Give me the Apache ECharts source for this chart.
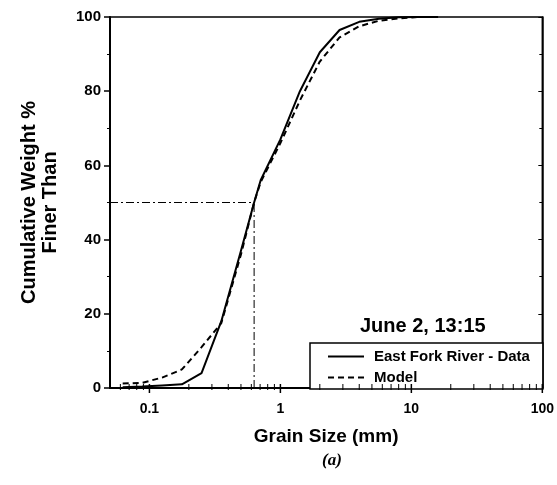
<!DOCTYPE html>
<html><head><meta charset="utf-8">
<script src="https://cdn.jsdelivr.net/npm/echarts@6/dist/echarts.min.js"></script>
<style>html,body{margin:0;padding:0;background:#fff}#c{width:557px;height:485px}</style>
</head><body><div id="c"></div>
<script>
// Grain size (mm)
const dataSizes = [0.0625, 0.088, 0.125, 0.177, 0.25, 0.354, 0.5, 0.63, 0.707, 1.0, 1.41, 2.0, 2.83, 4.0, 5.66, 8.0, 11.3, 16];
const dataPct   = [0.2, 0.4, 0.7, 1.0, 4.0, 18, 37, 50, 56, 67, 80, 90.5, 96.5, 98.7, 99.5, 99.9, 100, 100];
const modelSizes = [0.0625, 0.088, 0.125, 0.177, 0.25, 0.354, 0.5, 0.63, 0.707, 1.0, 1.41, 2.0, 2.83, 4.0, 5.66, 8.0, 11.3, 16];
const modelPct   = [1.2, 1.4, 2.8, 5.0, 11, 17.5, 36, 50, 55.5, 66, 77.5, 88, 94.5, 97.5, 99, 99.6, 100, 100];
const d50 = 0.63;
const d50Pct = 50;
const xMajorTicks = [0.1, 1, 10, 100];
const xMinorTicks = [0.06, 0.07, 0.08, 0.09, 0.2, 0.3, 0.4, 0.5, 0.6, 0.7, 0.8, 0.9, 2, 3, 4, 5, 6, 7, 8, 9, 20, 30, 40, 50, 60, 70, 80, 90];
const xMin = 0.05, xMax = 100;

const font = 'Liberation Sans, Arial, sans-serif';
const chart = echarts.init(document.getElementById('c'));

function tickSeries(vals, up, down, w) {
  return {
    type: 'custom', silent: true, clip: false, z: 5,
    data: vals.map(v => [v, 0]),
    encode: {x: 0, y: 1},
    renderItem: function (params, api) {
      const p = api.coord([api.value(0), 0]);
      return {type: 'line', shape: {x1: p[0], y1: p[1] + down, x2: p[0], y2: p[1] - up},
              style: {stroke: '#000', lineWidth: w}};
    }
  };
}

chart.setOption({
  animation: false,
  backgroundColor: '#fff',
  grid: {left: 110, right: 14, top: 17, bottom: 97, show: true, borderColor: '#000', borderWidth: 1.5, backgroundColor: 'transparent'},
  title: [
    {text: 'June 2, 13:15', left: 355, top: 311, textStyle: {fontFamily: font, fontWeight: 'bold', fontSize: 20, color: '#000'}},
    {text: '(a)', left: 327, top: 447, textAlign: 'center', textStyle: {fontFamily: 'Liberation Serif, DejaVu Serif, serif', fontStyle: 'italic', fontWeight: 'bold', fontSize: 17, color: '#000'}}
  ],
  legend: {
    data: ['East Fork River - Data', 'Model'],
    orient: 'vertical', left: 310, top: 343,
    padding: [6, 13, 4, 17], itemGap: 6,
    itemWidth: 36, itemHeight: 14,
    borderColor: '#000', borderWidth: 1.5, backgroundColor: '#fff', borderRadius: 0,
    itemStyle: {opacity: 0},
    textStyle: {fontFamily: font, fontWeight: 'bold', fontSize: 15, color: '#000', padding: [0, 0, 0, 5]}
  },
  xAxis: {
    type: 'log', logBase: 10, min: xMin, max: xMax,
    name: 'Grain Size (mm)', nameLocation: 'middle', nameGap: 39,
    nameTextStyle: {fontFamily: font, fontWeight: 'bold', fontSize: 19, color: '#000'},
    axisLine: {lineStyle: {color: '#000', width: 2}},
    axisTick: {show: false},
    splitLine: {show: false},
    axisLabel: {
      fontFamily: font, fontWeight: 'bold', fontSize: 14, color: '#000', margin: 14,
      showMinLabel: false,
      formatter: function (v) {
        const l = Math.log10(v);
        if (Math.abs(l - Math.round(l)) > 1e-6) return '';
        const r = Math.round(l);
        return r < 0 ? String(Math.pow(10, r).toFixed(-r)) : String(Math.pow(10, r));
      }
    }
  },
  yAxis: [{
    type: 'value', min: 0, max: 100, interval: 20,
    name: 'Cumulative Weight %\nFiner Than', nameLocation: 'middle', nameGap: 49,
    nameTextStyle: {fontFamily: font, fontWeight: 'bold', fontSize: 20, color: '#000', lineHeight: 21},
    axisLine: {show: true, lineStyle: {color: '#000', width: 2}},
    axisTick: {show: true, inside: false, length: 6, lineStyle: {color: '#000', width: 1.5}},
    minorTick: {show: true, splitNumber: 2, length: 3, lineStyle: {color: '#000'}},
    splitLine: {show: false},
    axisLabel: {fontFamily: font, fontWeight: 'bold', fontSize: 15, color: '#000', margin: 9}
  }, {
    type: 'value', min: 0, max: 100, interval: 20, position: 'right',
    axisLine: {show: true, lineStyle: {color: '#000', width: 1.5}},
    axisTick: {show: true, inside: true, length: 4, lineStyle: {color: '#000'}},
    minorTick: {show: true, splitNumber: 2, length: 3, lineStyle: {color: '#000'}},
    splitLine: {show: false},
    axisLabel: {show: false}
  }],
  series: [
    {
      name: 'East Fork River - Data', type: 'line', showSymbol: false, symbol: 'none',
      data: dataSizes.map((s, i) => [s, dataPct[i]]),
      lineStyle: {color: '#000', width: 2, type: 'solid'}, itemStyle: {color: '#000'}, z: 4
    },
    {
      name: 'Model', type: 'line', showSymbol: false, symbol: 'none',
      data: modelSizes.map((s, i) => [s, modelPct[i]]),
      lineStyle: {color: '#000', width: 2, type: [6, 4]}, itemStyle: {color: '#000'}, z: 4
    },
    {
      name: 'd50h', type: 'line', showSymbol: false, symbol: 'none', silent: true,
      data: [[xMin, d50Pct], [d50, d50Pct]],
      lineStyle: {color: '#000', width: 1, type: [8, 3, 2, 3]}, z: 3
    },
    {
      name: 'd50v', type: 'line', showSymbol: false, symbol: 'none', silent: true,
      data: [[d50, 0], [d50, d50Pct]],
      lineStyle: {color: '#000', width: 1, type: [8, 3, 2, 3]}, z: 3
    },
    tickSeries(xMajorTicks, 4, 5, 1.5),
    tickSeries(xMinorTicks, 4, 2, 1)
  ]
});
</script></body></html>
